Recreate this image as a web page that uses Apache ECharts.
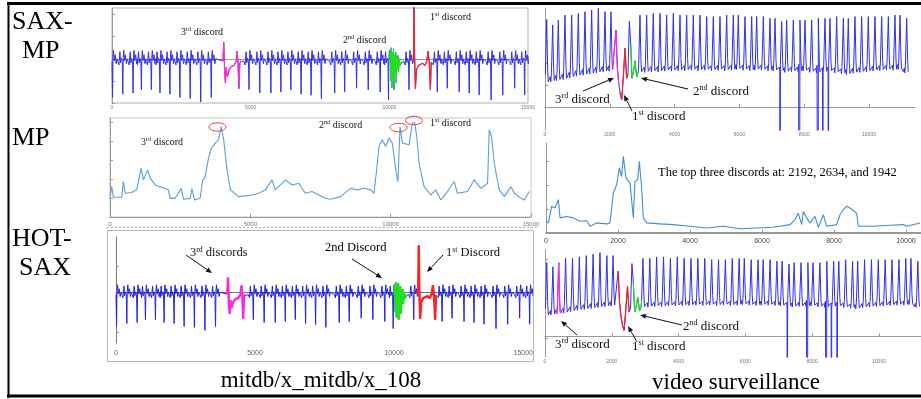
<!DOCTYPE html>
<html>
<head>
<meta charset="utf-8">
<script src="https://cdn.jsdelivr.net/npm/echarts@6/dist/echarts.min.js"></script>
<style>
  html, body { margin: 0; background: #fff; }
  #chart { width: 921px; height: 399px; }
</style>
</head>
<body>
<div id="chart"></div>
<script>
// ---- mitdb/x_108 ECG: beat troughs ----
const mitBeatPos = [20, 390, 760, 1060, 1420, 1730, 2090, 2450, 2820, 3200, 3580, 4940, 5330, 5730, 6090, 6450, 6820, 7180, 7550, 8030, 8390, 8820, 9240, 9670, 9970, 10710, 11730, 12090, 12520, 12880, 13240, 13670, 14090, 14520, 14880]
const mitTrough = [-1.75, -1.6, -1.55, -1.4, -1.4, -1.55, -1.6, -1.75, -1.8, -1.95, -1.75, -1.4, -1.55, -1.55, -1.5, -1.4, -1.6, -1.65, -1.8, -1.55, -1.5, -1.33, -1.4, -1.5, -1.86, -1.4, -1.5, -1.33, -1.5, -1.55, -1.64, -1.86, -1.64, -1.33, -1.64]
// one beat, offsets around the trough (null = the trough itself)
const mitBeatShape = [[-180, -0.12], [-140, -0.28], [-105, 0.32], [-80, -0.18], [-50, 0.02], [-20, -0.12], [0, null], [15, 0.05], [35, 0.38], [60, -0.08], [95, 0.18], [130, -0.22], [160, 0.0]]
// discord stretches
const mitDiscord3 = [[4000, -0.1], [4030, 0.75], [4060, -0.5], [4090, -1.1], [4120, -0.4], [4160, -0.8], [4220, -0.5], [4300, -0.35], [4400, -0.3], [4480, -0.1], [4515, 0.35], [4545, -0.2], [4575, -1.35], [4610, -0.2], [4640, -0.1]]
const mitDiscord2 = [[10010, -0.1], [10030, 0.4], [10050, -1.0], [10070, 0.5], [10090, -1.3], [10110, 0.3], [10130, -0.9], [10150, 0.45], [10170, -1.4], [10190, 0.2], [10210, -0.7], [10230, 0.3], [10250, -1.1], [10270, 0.1], [10290, -0.5], [10310, 0.15], [10330, -0.6], [10360, 0.0], [10390, -0.3], [10420, -0.2], [10455, -0.15]]
const mitDiscord1 = [[10870, -0.1], [10890, 2.4], [10910, 0.2], [10940, -1.35], [10980, -0.5], [11050, -0.3], [11120, -0.25], [11200, -0.2], [11280, -0.3], [11350, -0.1], [11400, 0.35], [11440, -0.2], [11480, -1.4], [11510, -0.15]]

// ---- mitdb matrix profile ----
const mitMp = [[0, 0.99], [60, 1.61], [120, 1.05], [420, 1.05], [480, 1.88], [540, 1.26], [770, 1.3], [950, 1.44], [1110, 2.59], [1190, 1.97], [1340, 2.5], [1430, 2.06], [1610, 1.7], [1840, 1.58], [2080, 1.44], [2140, 0.99], [2320, 0.99], [2540, 1.52], [2620, 0.94], [2860, 0.99], [2920, 1.52], [3010, 0.9], [3210, 0.99], [3300, 1.93], [3390, 2.14], [3510, 3.12], [3610, 3.65], [3750, 3.92], [3870, 4.1], [3960, 4.8], [4050, 4.1], [4170, 2.5], [4290, 1.44], [4580, 1.08], [4820, 1.12], [5060, 1.17], [5300, 1.26], [5540, 1.44], [5770, 1.97], [5890, 1.44], [6250, 1.97], [6490, 1.7], [6730, 1.79], [6960, 1.26], [7200, 1.35], [7440, 1.17], [7680, 0.99], [7857, 0.94], [8214, 1.08], [8571, 1.52], [8810, 1.44], [9048, 1.52], [9286, 1.44], [9405, 1.26], [9500, 2.5], [9583, 3.74], [9702, 4.1], [9821, 3.74], [9940, 4.19], [10060, 3.92], [10180, 2.5], [10260, 1.88], [10333, 4.8], [10417, 3.92], [10655, 3.83], [10774, 5.0], [10857, 5.0], [10929, 4.27], [11012, 2.85], [11190, 1.61], [11429, 1.17], [11607, 1.44], [11786, 0.9], [12024, 1.35], [12262, 1.88], [12381, 1.26], [12738, 1.35], [12976, 1.97], [13214, 1.52], [13452, 1.79], [13512, 4.63], [13595, 4.27], [13690, 2.85], [13869, 1.44], [14048, 1.08], [14286, 1.61], [14405, 1.26], [14643, 0.99], [14762, 0.9], [14940, 1.35]]

// ---- video surveillance signal: peak positions, peak and valley levels ----
const vidPeakPos = [52, 237, 411, 617, 823, 1029, 1235, 1440, 1646, 1852, 2037, 2932, 3138, 3343, 3549, 3755, 3961, 4167, 4372, 4578, 4784, 4990, 5195, 5401, 5607, 5813, 5967, 6173, 6379, 6533, 6739, 6944, 7099, 7305, 7459, 7665, 7870, 8025, 8230, 8436, 8642, 8796, 9002, 9208, 9362, 9568, 9774, 9979, 10185, 10391, 10597, 10802, 10957, 11163]
const vidPeak = [3.95, 3.73, 3.95, 4.18, 4.18, 4.26, 4.33, 4.41, 4.49, 4.33, 4.33, 4.18, 4.18, 4.26, 4.26, 4.18, 4.26, 4.18, 4.18, 4.18, 4.18, 4.11, 4.11, 4.11, 4.18, 4.18, 4.18, 4.11, 4.11, 4.11, 4.11, 4.03, 4.03, 3.88, 3.95, 3.95, 3.95, 3.95, 3.95, 4.03, 4.03, 4.03, 4.11, 4.03, 4.03, 4.11, 4.11, 4.11, 4.11, 4.11, 4.11, 4.18, 4.18, 4.03]
const vidValley = [1.14, 1.2, 1.25, 1.3, 1.38, 1.45, 1.5, 1.55, 1.6, 1.65, 1.68, 1.6, 1.62, 1.65, 1.65, 1.68, 1.68, 1.7, 1.7, 1.72, 1.7, 1.72, 1.7, 1.72, 1.7, 1.72, 1.75, 1.72, 1.7, 1.72, 1.72, 1.7, 1.68, 1.66, 1.62, 1.65, 1.66, 1.68, 1.62, 1.6, 1.62, 1.65, 1.6, 1.55, 1.52, 1.58, 1.62, 1.65, 1.68, 1.7, 1.72, 1.72, 1.75, 1.6]
// one cycle: offset from peak, share of the peak height above the valley
const vidBeatShape = [[-100, 0], [-75, 0.07], [-58, -0.02], [-40, 0.12], [0, 1], [30, 0.2], [48, 0.0]]
// the irregular stretch around the discords
const vidDip = [[2109, 1.68], [2191, 3.5], [2232, 1.8], [2274, 1.1], [2315, 0.64], [2366, 0.32], [2417, 1.36], [2469, 2.68], [2520, 1.3], [2561, 1.5], [2603, 3.9], [2644, 2.9], [2685, 1.3], [2730, 1.6], [2778, 2.1], [2829, 1.36], [2880, 1.6]]
const vidDropouts = [7250, 7840, 8430, 8570, 8740]
const vidSaxMpRanges = { third: [2080, 2300], first: [2300, 2570], second: [2620, 2880] }
const vidHotSaxRanges = { third: [330, 520], first: [2180, 2560], second: [2640, 2900] }

// ---- video matrix profile ----
const vidMp = [[0, 0.49], [65, 0.42], [157, 1.11], [250, 1.04], [343, 1.39], [390, 0.63], [574, 0.69], [760, 0.63], [944, 0.49], [1130, 0.51], [1222, 0.28], [1407, 0.42], [1685, 0.38], [1778, 0.42], [1870, 1.67], [1963, 2.01], [2037, 2.71], [2100, 2.36], [2148, 3.19], [2222, 2.29], [2333, 2.08], [2426, 0.63], [2472, 2.15], [2546, 2.22], [2593, 2.99], [2657, 1.88], [2704, 0.63], [2796, 0.42], [3167, 0.38], [3537, 0.35], [4000, 0.28], [4463, 0.21], [4926, 0.28], [5389, 0.18], [5852, 0.21], [6315, 0.24], [6778, 0.35], [6917, 0.56], [7009, 0.83], [7102, 0.35], [7148, 0.9], [7241, 0.63], [7333, 0.42], [7472, 0.69], [7565, 0.24], [7704, 0.76], [7796, 0.28], [8074, 0.35], [8167, 0.76], [8259, 0.97], [8352, 1.11], [8444, 1.04], [8630, 0.83], [8676, 0.28], [9093, 0.28], [9556, 0.32], [9926, 0.35], [10019, 0.28], [10389, 0.42]]

const xTicksMit = [0, 5000, 10000, 15000]
const xTicksVid = [0, 2000, 4000, 6000, 8000, 10000]

// ---------- build the signals ----------
const inRange = (x, r) => x >= r[0] && x <= r[1]
const mitRanges = [mitDiscord3, mitDiscord2, mitDiscord1].map(d => [d[0][0], d[d.length - 1][0]])
let mitSignal = []
mitBeatPos.forEach((p, i) => {
  mitBeatShape.forEach(([o, v]) => {
    const x = p + o
    if (x < 0 || mitRanges.some(r => inRange(x, r))) return
    mitSignal.push([x, v === null ? mitTrough[i] : v])
  })
})
mitSignal = mitSignal.concat(mitDiscord3, mitDiscord2, mitDiscord1).sort((a, b) => a[0] - b[0])

const dipRange = [vidDip[0][0], vidDip[vidDip.length - 1][0]]
let vidSignal = []
vidPeakPos.forEach((p, i) => {
  vidBeatShape.forEach(([o, f]) => {
    const x = p + o
    if (x < 0 || inRange(x, dipRange)) return
    vidSignal.push([x, vidValley[i] + f * (vidPeak[i] - vidValley[i])])
  })
})
vidDropouts.forEach(x => vidSignal.push([x, -20]))
vidSignal = vidSignal.concat(vidDip).sort((a, b) => a[0] - b[0])
const vidPart = r => vidSignal.filter(d => inRange(d[0], r))

// ---------- styling helpers ----------
const SERIF = '"Liberation Serif", "DejaVu Serif", serif'
const BLUE = '#3030ee'
const MAGENTA = '#ff2ad4'
const GREEN = '#22dd22'
const RED = '#ff2222'
const plainNum = v => String(v)

function xAxis (gi, max, ticks, label = {}, opt = {}) {
  return Object.assign({
    gridIndex: gi, type: 'value', min: 0, max,
    axisLine: { lineStyle: { color: '#9a9a9a', width: 1 } },
    axisTick: { inside: true, length: 3, customValues: ticks, lineStyle: { color: '#999' } },
    axisLabel: Object.assign({ customValues: ticks, fontSize: 5, color: '#777', margin: 2, formatter: plainNum }, label),
    splitLine: { show: false }
  }, opt)
}
function yAxis (gi, min, max, ticks, opt = {}) {
  return Object.assign({
    gridIndex: gi, type: 'value', min, max,
    axisLine: { show: true, lineStyle: { color: '#9a9a9a', width: 1 } },
    axisTick: { inside: true, length: 3, customValues: ticks, lineStyle: { color: '#999' } },
    axisLabel: { show: false },
    splitLine: { show: false }
  }, opt)
}
function line (gi, data, color, width) {
  return {
    type: 'line', xAxisIndex: gi, yAxisIndex: gi, data,
    showSymbol: false, symbol: 'none', animation: false,
    lineStyle: { color, width }
  }
}
function ordinal (n, suf, rest, x, y, size) {
  return {
    type: 'text', x, y, z: 50,
    style: {
      text: `{n|${n}}{s|${suf}}{n|${rest}}`,
      fill: '#111', align: 'left', verticalAlign: 'middle',
      rich: {
        n: { fontFamily: SERIF, fontSize: size, lineHeight: size * 1.2, fill: '#111' },
        s: { fontFamily: SERIF, fontSize: size * 0.62, lineHeight: size * 0.75, verticalAlign: 'top', fill: '#111' }
      }
    }
  }
}
function plain (txt, x, y, size, align = 'left') {
  return {
    type: 'text', x, y, z: 50,
    style: { text: txt, fontFamily: SERIF, fontSize: size, fill: '#000', align, verticalAlign: 'middle' }
  }
}
function arrow (x1, y1, x2, y2) {
  const a = Math.atan2(y2 - y1, x2 - x1)
  const L = 6, W = 2.5
  const bx = x2 - L * Math.cos(a), by = y2 - L * Math.sin(a)
  return [
    { type: 'line', z: 50, shape: { x1, y1, x2: bx, y2: by }, style: { stroke: '#111', lineWidth: 1 } },
    { type: 'polygon', z: 50, shape: { points: [[x2, y2], [bx - W * Math.sin(a), by + W * Math.cos(a)], [bx + W * Math.sin(a), by - W * Math.cos(a)]] }, style: { fill: '#111' } }
  ]
}
const ring = (cx, cy) => ({ type: 'ellipse', z: 50, shape: { cx, cy, rx: 8.5, ry: 4.2 }, style: { fill: 'none', stroke: '#e8383d', lineWidth: 1 } })

const chart = echarts.init(document.getElementById('chart'), null, { renderer: 'canvas' })

chart.setOption({
  backgroundColor: '#fff',
  animation: false,
  grid: [
    { left: 112, top: 8, width: 416, height: 95, show: true, borderColor: '#b0b0b0', borderWidth: 1 },
    { left: 110, top: 118, width: 421, height: 99, show: true, borderColor: '#c8c8c8', borderWidth: 1 },
    { left: 116, top: 237, width: 417, height: 106 },
    { left: 545, top: 8, width: 370, height: 122 },
    { left: 546, top: 143, width: 375, height: 90 },
    { left: 545, top: 250, width: 376, height: 107 }
  ],
  xAxis: [
    xAxis(0, 15000, xTicksMit),
    xAxis(1, 15000, xTicksMit, { fontSize: 6, margin: 4 }),
    xAxis(2, 15000, xTicksMit, { fontSize: 7, color: '#666', margin: 7, alignMaxLabel: 'right' }, { axisLine: { lineStyle: { color: '#777' } } }),
    xAxis(3, 11420, xTicksVid),
    xAxis(4, 10417, xTicksVid, { fontSize: 7, color: '#444', margin: 5 }, { axisLine: { lineStyle: { color: '#777', width: 1.5 } } }),
    xAxis(5, 11257, xTicksVid)
  ],
  yAxis: [
    yAxis(0, -2, 2.3, [-2, -1, 0, 1, 2]),
    yAxis(1, 0, 5.25, [0, 1, 2, 3, 4, 5]),
    yAxis(2, -2.6, 2.83, [-2.05, 1.35], { axisLine: { show: true, lineStyle: { color: '#777' } } }),
    yAxis(3, -1.05, 4.5, [0, 1, 2, 3, 4]),
    yAxis(4, 0, 3.75, [0, 1, 2, 3]),
    yAxis(5, -1.11, 4.63, [-0.1, 2.05, 4.15])
  ],
  series: [
    line(0, mitSignal, BLUE, 1),
    line(0, mitDiscord3, MAGENTA, 1.2),
    line(0, mitDiscord2, GREEN, 1.2),
    line(0, mitDiscord1, RED, 1.2),

    line(1, mitMp, '#5a9fd8', 1.1),

    line(2, mitSignal, '#2222e6', 1),
    line(2, mitDiscord3, MAGENTA, 2.4),
    line(2, mitDiscord2, GREEN, 2.4),
    line(2, mitDiscord1, RED, 2.4),

    line(3, vidSignal, BLUE, 1),
    line(3, vidPart(vidSaxMpRanges.third), MAGENTA, 1.2),
    line(3, vidPart(vidSaxMpRanges.first), RED, 1.2),
    line(3, vidPart(vidSaxMpRanges.second), GREEN, 1.2),

    line(4, vidMp, '#3d8fd6', 1.1),

    line(5, vidSignal, BLUE, 1),
    line(5, vidPart(vidHotSaxRanges.third), MAGENTA, 1.2),
    line(5, vidPart(vidHotSaxRanges.first), RED, 1.2),
    line(5, vidPart(vidHotSaxRanges.second), GREEN, 1.2)
  ],
  graphic: [
    // outer frame
    { type: 'line', z: 60, shape: { x1: 7, y1: 3.5, x2: 921, y2: 3.5 }, style: { stroke: '#000', lineWidth: 3 } },
    { type: 'line', z: 60, shape: { x1: 8.5, y1: 2, x2: 8.5, y2: 398 }, style: { stroke: '#000', lineWidth: 2 } },
    { type: 'line', z: 60, shape: { x1: 7, y1: 396, x2: 921, y2: 396 }, style: { stroke: '#000', lineWidth: 3 } },
    // panel boxes
    { type: 'line', z: 5, shape: { x1: 107, y1: 227.5, x2: 537, y2: 227.5 }, style: { stroke: '#aaa', lineWidth: 1, lineDash: [2, 2] } },
    { type: 'rect', z: 5, shape: { x: 107.5, y: 230.5, width: 426, height: 131 }, style: { fill: 'none', stroke: '#b5b5b5', lineWidth: 1 } },

    // row labels
    plain('SAX-', 12, 22, 26),
    plain('MP', 22, 51, 26),
    plain('MP', 12, 138, 26),
    plain('HOT-', 12, 239, 26),
    plain('SAX', 19, 268, 26),

    // SAX-MP (mitdb)
    ordinal('3', 'rd', ' discord', 181, 32, 10),
    ordinal('2', 'nd', ' discord', 343, 40, 10),
    ordinal('1', 'st', ' discord', 430, 17, 10),
    // MP (mitdb)
    ordinal('3', 'rd', ' discord', 141, 142, 10),
    ordinal('2', 'nd', ' discord', 319, 125, 10),
    ordinal('1', 'st', ' discord', 430, 123, 10),
    ring(217.5, 127), ring(398.5, 127.5), ring(414, 120.5),
    // HOT-SAX (mitdb)
    ordinal('3', 'rd', ' discords', 190, 253, 12.5),
    plain('2nd Discord', 325, 248, 12.5),
    ordinal('1', 'st', ' Discord', 446, 253, 12.5),
    ...arrow(186, 255, 212, 273),
    ...arrow(352, 259, 382, 278),
    ...arrow(443, 255, 427, 272),

    // SAX-MP (video)
    ordinal('3', 'rd', ' discord', 555, 100, 13),
    ordinal('1', 'st', ' discord', 632, 117, 13),
    ordinal('2', 'nd', ' discord', 693, 92, 13),
    ...arrow(583, 91, 614, 78),
    ...arrow(632, 111, 624, 95),
    ...arrow(688, 89, 641, 78),
    // MP (video)
    plain('The top three discords at: 2192, 2634, and 1942', 658, 173, 12.5),
    // HOT-SAX (video)
    ordinal('3', 'rd', ' discord', 555, 345, 13),
    ordinal('1', 'st', ' discord', 632, 347, 13),
    ordinal('2', 'nd', ' discord', 683, 327, 13),
    ...arrow(577, 335, 561, 321),
    ...arrow(637, 342, 628, 326),
    ...arrow(682, 325, 640, 315),

    // captions
    plain('mitdb/x_mitdb/x_108', 321, 381, 23, 'center'),
    plain('video surveillance', 736, 383, 23, 'center')
  ]
})
</script>
</body>
</html>
